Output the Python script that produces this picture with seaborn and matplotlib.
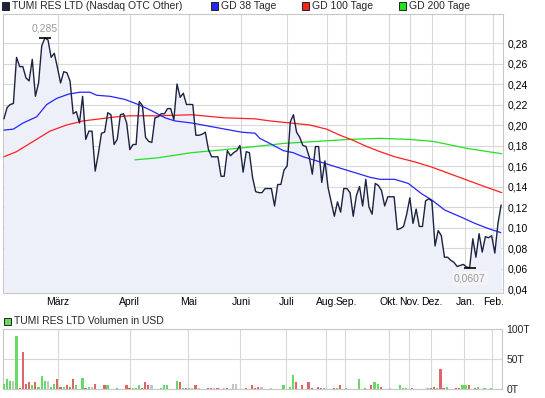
import matplotlib
matplotlib.use('Agg')
import matplotlib.pyplot as plt
import matplotlib.ticker as ticker
from matplotlib.patches import Rectangle
import seaborn as sns
import pandas as pd

# Schlusskurse (ein Wert pro Handelstag)
price = [0.206, 0.217, 0.220, 0.221, 0.266, 0.257, 0.257, 0.246, 0.243, 0.264,
         0.228, 0.241, 0.277, 0.285, 0.283, 0.266, 0.270, 0.256, 0.241, 0.252,
         0.251, 0.243, 0.211, 0.213, 0.202, 0.228, 0.186, 0.194, 0.194, 0.155,
         0.172, 0.192, 0.193, 0.212, 0.210, 0.181, 0.186, 0.210, 0.211, 0.202,
         0.176, 0.181, 0.181, 0.223, 0.219, 0.188, 0.184, 0.183, 0.207, 0.208,
         0.211, 0.211, 0.216, 0.216, 0.205, 0.240, 0.227, 0.231, 0.220, 0.220,
         0.220, 0.190, 0.190, 0.191, 0.193, 0.176, 0.169, 0.169, 0.169, 0.150,
         0.150, 0.175, 0.170, 0.173, 0.175, 0.180, 0.154, 0.174, 0.173,
         0.149, 0.135, 0.134, 0.134, 0.138, 0.138, 0.138, 0.121, 0.142, 0.142,
         0.156, 0.160, 0.203, 0.210, 0.193, 0.188, 0.180, 0.179, 0.169, 0.152,
         0.179, 0.179, 0.144, 0.165, 0.139, 0.125, 0.111, 0.125, 0.115, 0.138,
         0.138, 0.134, 0.111, 0.131, 0.140, 0.121, 0.147, 0.120, 0.113,
         0.143, 0.141, 0.136, 0.121, 0.130, 0.130, 0.130, 0.098, 0.099, 0.101,
         0.113, 0.129, 0.104, 0.118, 0.101, 0.101, 0.126, 0.128, 0.126, 0.082,
         0.097, 0.092, 0.071, 0.071, 0.068, 0.066, 0.062, 0.063, 0.064, 0.0615,
         0.0607, 0.089, 0.071, 0.094, 0.076, 0.091, 0.090, 0.092, 0.075, 0.104,
         0.122]

# gleitende Durchschnitte
gd38_day = [0, 3.0, 6.1, 10.4, 13.6, 16.8, 20.4, 24.1, 27.3, 29.5, 33.7, 38.4,
            42.7, 46.9, 51.2, 54.3, 59.6, 64.9, 70.2, 75.5, 79.8, 81.3, 84.5,
            88.8, 91.9, 95.1, 99.4, 103.6, 107.8, 112.1, 116.3, 119.5, 124.2,
            128.5, 132.7, 135.9, 140.1, 145.4, 149.7, 153.9, 157.9]
gd38 = [0.195, 0.196, 0.202, 0.208, 0.220, 0.226, 0.230, 0.232, 0.232, 0.229,
        0.228, 0.225, 0.220, 0.214, 0.207, 0.204, 0.202, 0.199, 0.196, 0.193,
        0.192, 0.187, 0.182, 0.175, 0.173, 0.169, 0.165, 0.161, 0.157, 0.153,
        0.149, 0.147, 0.147, 0.143, 0.133, 0.127, 0.117, 0.110, 0.104, 0.099,
        0.095]

gd100_day = [0, 4.0, 9.3, 14.6, 19.9, 25.2, 30.5, 35.8, 40.0, 49.0, 59.6, 70.2,
             79.8, 84.5, 90.9, 97.2, 102.5, 106.8, 111.0, 115.3, 119.5, 124.2,
             130.6, 135.9, 141.2, 146.5, 151.8, 158.2]
gd100 = [0.169, 0.174, 0.184, 0.194, 0.200, 0.204, 0.206, 0.208, 0.209, 0.209,
         0.210, 0.207, 0.206, 0.204, 0.202, 0.200, 0.196, 0.190, 0.185, 0.179,
         0.174, 0.169, 0.164, 0.159, 0.153, 0.147, 0.141, 0.134]

gd200_day = [41.6, 49.0, 59.6, 70.2, 79.8, 88.8, 99.4, 109.9, 119.5, 128.5,
             136.4, 141.2, 147.5, 158.2]
gd200 = [0.166, 0.168, 0.173, 0.176, 0.179, 0.182, 0.184, 0.186, 0.187, 0.186,
         0.184, 0.181, 0.177, 0.172]

months = ['März', 'April', 'Mai', 'Juni', 'Juli', 'Aug.', 'Sep.', 'Okt.',
          'Nov.', 'Dez.', 'Jan.', 'Feb.']
month_pos = [17.2, 40.0, 58.7, 75.3, 89.9, 102.6, 108.7, 122.5, 129.0, 135.9,
             146.6, 155.5]

# Volumen in Tausend USD; u = steigend, d = fallend, n = unverändert
vol_day = [0, 1, 2, 3, 4, 5, 6, 7, 8, 9,
           10, 11, 12, 13, 14, 15, 16, 17, 18, 19,
           20, 21, 22, 23, 25, 26, 27, 28, 29, 32,
           33, 36, 39, 40, 41, 42, 43, 44, 45, 46,
           47, 50, 51, 52, 55, 56, 57, 58, 59, 60,
           61, 62, 65, 66, 67, 68, 70, 71, 73, 74,
           77, 79, 80, 81, 82, 85, 89, 91, 92, 93,
           95, 97, 98, 100, 101, 102, 105, 106, 107, 109,
           113, 115, 117, 118, 119, 120, 123, 126, 127, 128,
           130, 135, 136, 137, 138, 139, 140, 141, 144, 145,
           146, 147, 148, 150, 151, 153, 155]
vol = [9, 17, 13, 13, 89, 2, 61, 9, 11, 7,
       12, 4, 22, 14, 14, 3, 9, 17, 3, 4,
       7, 4, 16, 6, 19, 2, 4, 4, 9, 6,
       6, 2, 6, 2, 2, 2, 7, 2, 11, 6,
       6, 2, 6, 6, 14, 11, 2, 2, 2, 2,
       6, 2, 2, 2, 2, 2, 2, 2, 9, 9,
       2, 6, 2, 4, 4, 2, 6, 4, 24, 11,
       6, 12, 2, 4, 2, 2, 2, 2, 7, 2,
       17, 2, 6, 11, 9, 4, 2, 7, 2, 2,
       2, 2, 2, 4, 2, 33, 2, 4, 2, 2,
       6, 6, 6, 2, 4, 2, 2]
vol_dir = ['u', 'u', 'u', 'n', 'u', 'd', 'd', 'd', 'd', 'u',
           'd', 'u', 'u', 'u', 'n', 'u', 'u', 'd', 'd', 'u',
           'd', 'd', 'd', 'u', 'u', 'd', 'u', 'n', 'd', 'd',
           'u', 'u', 'd', 'd', 'u', 'u', 'u', 'd', 'd', 'd',
           'n', 'u', 'u', 'u', 'u', 'd', 'u', 'd', 'u', 'n',
           'd', 'n', 'd', 'd', 'n', 'd', 'n', 'd', 'n', 'n',
           'd', 'd', 'd', 'd', 'n', 'n', 'u', 'u', 'u', 'd',
           'd', 'd', 'd', 'd', 'd', 'u', 'd', 'u', 'd', 'u',
           'u', 'u', 'd', 'u', 'u', 'd', 'n', 'u', 'u', 'u',
           'd', 'u', 'd', 'd', 'u', 'd', 'd', 'u', 'd', 'd',
           'u', 'u', 'd', 'd', 'u', 'u', 'u']

sns.set_style('white')
plt.rcParams['font.family'] = ['Liberation Sans', 'DejaVu Sans']
plt.rcParams['font.size'] = 7.5

W, H = 545, 398
fig = plt.figure(figsize=(W / 100, H / 100), dpi=100)


def fx(px):
    return px / W


def fy(py):
    return 1 - py / H


grid_c = '#d8d8d8'
ax = fig.add_axes([fx(3), fy(293), fx(500), (293 - 14) / H])
axv = fig.add_axes([fx(3), fy(389), fx(499), 60 / H])

df = pd.DataFrame({'day': range(len(price)), 'price': price})
ymin, ymax = 0.0361, 0.3083

ax.fill_between(df['day'], df['price'], ymin, color='#eef0f9', lw=0, zorder=1)
sns.lineplot(x=gd200_day, y=gd200, ax=ax, color='#22e022', lw=0.9, zorder=3)
sns.lineplot(x=gd100_day, y=gd100, ax=ax, color='#ff2020', lw=0.9, zorder=3)
sns.lineplot(x=gd38_day, y=gd38, ax=ax, color='#2525ff', lw=0.9, zorder=3)
sns.lineplot(data=df, x='day', y='price', ax=ax, color='#1c2340', lw=1.0,
             zorder=4)

# Hoch / Tief markieren
i_max = df['price'].idxmax()
i_min = df['price'].idxmin()
for i, dy in [(i_max, 6.5), (i_min, -7.5)]:
    v = price[i]
    ax.plot(i, v, marker='_', ms=9, mew=1.2, color='black', zorder=5)
    box = None if dy > 0 else dict(boxstyle='square,pad=0.2', fc='#f4f4f6',
                                   ec='none')
    ax.annotate(('%g' % v).replace('.', ','), (i, v), xytext=(0, dy),
                textcoords='offset points', ha='center', va='center',
                color='#9a9a9a', bbox=box, zorder=6)

ax.set_xlim(-0.3, 158.6)
ax.set_ylim(ymin, ymax)
ax.set_yticks([0.04 + 0.02 * k for k in range(13)])
ax.yaxis.set_major_formatter(
    ticker.FuncFormatter(lambda v, p: f'{v:.2f}'.replace('.', ',')))
ax.yaxis.tick_right()
ax.set_xticks(month_pos, months)
ax.tick_params(length=0, pad=3, labelsize=7.5, colors='black')
ax.grid(True, color=grid_c, lw=0.8)
ax.set_axisbelow(True)
ax.set_xlabel('')
ax.set_ylabel('')

# Volumen
colmap = {'u': '#66d966', 'd': '#dd6666', 'n': '#c4c4c4'}
axv.bar(vol_day, vol, width=0.7, color=[colmap[c] for c in vol_dir],
        lw=0, zorder=3)
axv.set_xlim(-0.3, 158.6)
axv.set_ylim(0, 100)
axv.set_yticks([0, 50, 100], ['0T', '50T', '100T'])
axv.yaxis.tick_right()
axv.set_xticks(month_pos, [''] * len(month_pos))
axv.tick_params(length=0, pad=3, labelsize=7.5)
axv.grid(True, color=grid_c, lw=0.8)
axv.set_axisbelow(True)

for a in (ax, axv):
    for s in a.spines.values():
        s.set_color('#c8c8c8')
        s.set_linewidth(0.8)


def legend_item(x, y, color, label):
    fig.patches.append(Rectangle((fx(x), fy(y + 3.5)), 7 / W, 7 / H,
                                 transform=fig.transFigure, fc=color,
                                 ec='#222222', lw=0.7))
    fig.text(fx(x + 10), fy(y), label, ha='left', va='center', fontsize=7.5)


legend_item(2, 6, '#1c2340', 'TUMI RES LTD (Nasdaq OTC Other)')
legend_item(211, 6, '#2525ff', 'GD 38 Tage')
legend_item(302, 6, '#ff2020', 'GD 100 Tage')
legend_item(399, 6, '#22e022', 'GD 200 Tage')
legend_item(4, 321, '#66d966', 'TUMI RES LTD Volumen in USD')

fig.savefig('out.png', dpi=100)
